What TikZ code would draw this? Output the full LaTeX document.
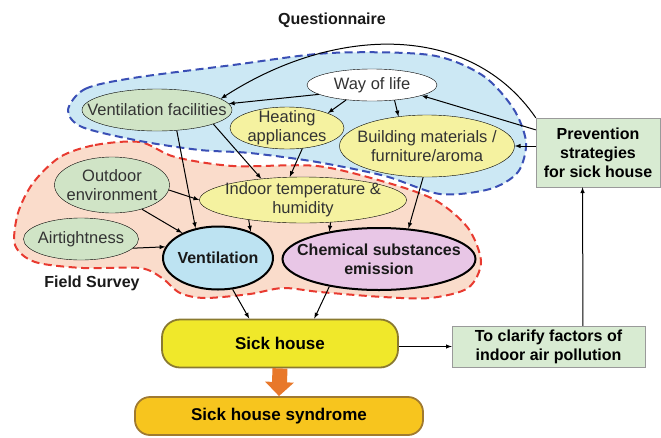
\documentclass[tikz,border=0pt]{standalone}
\usepackage{fontspec}
\setmainfont{Liberation Sans}
\usetikzlibrary{shapes.geometric,arrows.meta}

\definecolor{sageGreen}{HTML}{D0E4C6}
\definecolor{paleYellow}{HTML}{F5F2A0}
\definecolor{ventBlue}{HTML}{BDE3F2}
\definecolor{chemPink}{HTML}{E8C6E6}
\definecolor{sickYellow}{HTML}{F0E82A}
\definecolor{sickBorder}{HTML}{8A7A30}
\definecolor{syndromeOrange}{HTML}{F7C51E}
\definecolor{syndromeBorder}{HTML}{A07A30}
\definecolor{boxGreen}{HTML}{D8EBD2}
\definecolor{boxBorder}{HTML}{9A9A9A}
\definecolor{surveyBlue}{HTML}{CCE8F4}
\definecolor{surveyBlueDash}{HTML}{3A4FB5}
\definecolor{surveyPink}{HTML}{FADCCB}
\definecolor{surveyRedDash}{HTML}{E83A30}
\definecolor{arrowOrange}{HTML}{E8782A}

\begin{document}
\begin{tikzpicture}[x = 1pt, y = -1pt, >=latex,
    every node/.style = {font = \fontsize{16.5}{19}\selectfont},
    factor/.style = {ellipse, draw, align = center, text = black!80, inner xsep = -30pt, inner ysep = -10pt},
    keyFactor/.style = {factor, line width = 2pt, text = black!90, font = \fontsize{16}{19}\selectfont\bfseries},
    outcome/.style = {rectangle, rounded corners = 18pt, draw, line width = 1.8pt, font = \fontsize{17}{20}\selectfont\bfseries},
    action/.style = {rectangle, draw = boxBorder, fill = boxGreen, align = center, inner sep = 0pt, font = \fontsize{16}{19}\selectfont\bfseries},
    areaLabel/.style = {font = \fontsize{16}{19}\selectfont\bfseries, text = black!90},
    survey/.style = {line width = 2pt, dash pattern = on 8pt off 4.5pt},
    link/.style = {->, line width = 1pt},
    fatArrow/.style = {arrowOrange, line width = 15pt, -{Triangle[width = 28pt, length = 14pt]}}]
    \useasboundingbox (0,0) rectangle (661,437);

    \draw[survey, draw = surveyRedDash, fill = surveyPink] plot[smooth cycle] coordinates {(60,157) (95,145) (140,142) (175,157) (233,166) (317,166) (385,182) (435,200) (468,228) (481,262) (468,288) (430,298) (383,297) (320,292) (283,288) (250,294) (205,298) (180,293) (162,278) (140,268) (83,268) (35,262) (15,245) (18,213) (33,183)};
    \draw[survey, draw = surveyBlueDash, fill = surveyBlue] plot[smooth cycle] coordinates {(68,110) (85,89) (133,78) (233,65) (330,53) (430,55) (482,75) (513,108) (526,142) (518,172) (490,189) (440,194) (385,176) (317,162) (250,153) (200,150) (140,141) (82,127)};

    \node[areaLabel](questionnaire) at (332,20) {Questionnaire};
    \node[areaLabel](fieldSurvey) at (92,283) {Field Survey};

    \node[factor, fill = white, minimum width = 130pt, minimum height = 32pt](wayOfLife) at (372,85) {Way of life};
    \node[factor, fill = sageGreen, minimum width = 150pt, minimum height = 42pt](ventFacilities) at (157,110) {Ventilation facilities};
    \node[factor, fill = paleYellow, minimum width = 114pt, minimum height = 42pt](heating) at (287,128) {Heating\\appliances};
    \node[factor, fill = paleYellow, minimum width = 175pt, minimum height = 62pt](buildingMaterials) at (427,146) {Building materials /\\furniture/aroma};
    \node[factor, fill = sageGreen, minimum width = 115pt, minimum height = 56pt](outdoor) at (112,185) {Outdoor\\environment};
    \node[factor, fill = paleYellow, minimum width = 207pt, minimum height = 46pt](indoorTemp) at (303,200) {Indoor temperature \&\\humidity};
    \node[factor, fill = sageGreen, minimum width = 115pt, minimum height = 42pt](airtightness) at (81,239) {Airtightness};
    \node[keyFactor, fill = ventBlue, minimum width = 110pt, minimum height = 63pt](ventilation) at (218,258) {Ventilation};
    \node[keyFactor, fill = chemPink, minimum width = 193pt, minimum height = 62pt](chemical) at (379,259) {Chemical substances\\emission};

    \node[outcome, fill = sickYellow, draw = sickBorder, minimum width = 236pt, minimum height = 48pt](sickHouse) at (280,343.5) {Sick house};
    \node[outcome, fill = syndromeOrange, draw = syndromeBorder, minimum width = 288pt, minimum height = 38pt, rounded corners = 15pt](syndrome) at (279,416) {Sick house syndrome};
    \node[action, minimum width = 124pt, minimum height = 69pt](prevention) at (598,152.5) {Prevention\\strategies\\for sick house};
    \node[action, minimum width = 193pt, minimum height = 41pt](clarify) at (548.5,346.5) {To clarify factors of\\indoor air pollution};

    \draw [link] (prevention.north west) .. controls (470,22) and (335,25) .. (ventFacilities.10);
    \draw [link] (prevention.160) -- (wayOfLife.-12);
    \draw [link] (buildingMaterials.east -| prevention.west) -- (buildingMaterials.east);
    \draw [link] (wayOfLife.190) -- (ventFacilities.5);
    \draw [link] (wayOfLife.210) -- (heating.20);
    \draw [link] (wayOfLife.-34) -- (buildingMaterials.134);
    \draw [link] (ventFacilities.-14) -- (indoorTemp.153);
    \draw [link] (ventFacilities.-46) -- (ventilation.127);
    \draw [link] (heating.-53) -- (indoorTemp.120);
    \draw [link] (buildingMaterials.-97) -- (chemical.46);
    \draw [link] (outdoor.-5) -- (indoorTemp.west);
    \draw [link] (outdoor.-39) -- (ventilation.145);
    \draw [link] (airtightness.-10) -- (ventilation.168);
    \draw [link] (indoorTemp.200) -- (ventilation.39);
    \draw [link] (indoorTemp.-39) -- (chemical.151);
    \draw [link] (ventilation.-65) -- (sickHouse.141);
    \draw [link] (chemical.209) -- (sickHouse.36);
    \draw [link] (sickHouse.east |- clarify.west) -- (clarify.west);
    \draw [link] (clarify.31) -- (prevention.246);
    \draw [fatArrow] (sickHouse.south) -- (syndrome.north);
\end{tikzpicture}
\end{document}
